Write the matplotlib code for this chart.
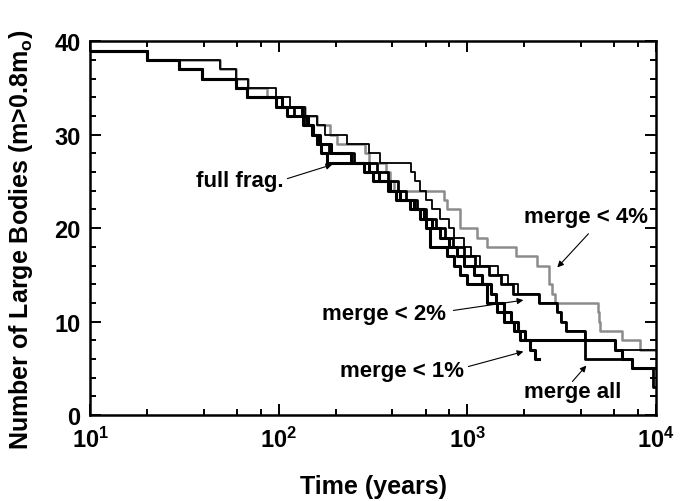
import matplotlib
matplotlib.use("Agg")
import matplotlib.pyplot as plt
from matplotlib.ticker import LogLocator, MultipleLocator, FixedLocator

plt.rcParams["font.family"] = "Liberation Sans"
plt.rcParams["font.weight"] = "bold"
plt.rcParams["mathtext.fontset"] = "custom"
plt.rcParams["mathtext.rm"] = "Liberation Sans:bold"
plt.rcParams["mathtext.bf"] = "Liberation Sans:bold"
plt.rcParams["mathtext.default"] = "bf"

# number of bodies above 0.8 m_o vs time (step changes, value held until next time)
full_frag_t = [10, 20, 29.5, 39, 59, 68, 104, 133, 143, 151, 160, 167, 180, 282, 314, 390, 441, 520,
               590, 650, 719, 800, 880, 960, 1080, 1200, 1330, 1420, 1560, 1700, 1850, 2033, 6090, 6610, 7470, 10000]
full_frag_n = [39, 38, 37, 36, 35, 34, 33, 32, 31, 30, 29, 28, 27, 26, 25, 24, 23, 22,
               21, 20, 19, 18, 17, 16, 15, 14, 13, 12, 11, 10, 9, 8, 7, 6, 5, 5]

merge1_t = [10, 20, 29.5, 39, 59, 68, 97, 110, 135, 150, 165, 190, 240, 300, 340, 380, 420, 498,
            563, 600, 637, 780, 846, 916, 996, 1271, 1438, 1560, 1763, 1911, 2160, 2295, 2386]
merge1_n = [39, 38, 37, 36, 35, 34, 33, 32, 31, 30, 29, 28, 27, 26, 25, 24, 23, 22,
            21, 20, 18, 17, 16, 15, 14, 12, 11, 10, 9, 8, 7, 6, 6]

merge2_t = [10, 20, 49, 59, 69, 97, 115, 137, 160, 175, 230, 300, 345, 505, 530, 563, 600, 650,
            719, 800, 850, 960, 1050, 1167, 1450, 1650, 1850, 2389, 3000, 3150, 3350, 4219, 6090, 10000]
merge2_n = [39, 38, 37, 36, 35, 34, 33, 32, 31, 30, 29, 28, 27, 26, 25, 24, 23, 22,
            21, 20, 19, 18, 17, 16, 15, 14, 13, 12, 11, 10, 9, 8, 7, 7]

merge4_t = [10, 20, 49, 59, 69, 87, 97, 137, 160, 186, 203, 287, 302, 370, 390, 406, 748, 778,
            918, 1125, 1266, 1800, 2330, 2700, 2800, 2930, 4900, 5000, 5080, 6610, 8280, 10000]
merge4_n = [39, 38, 37, 36, 35, 34, 33, 32, 31, 30, 29, 28, 27, 26, 25, 24, 23, 22,
            20, 19, 18, 17, 16, 14, 13, 12, 11, 10, 9, 8, 7, 7]

merge_all_t = [10, 20, 29.5, 39, 59, 68, 97, 120, 140, 150, 160, 185, 250, 330, 380, 430, 470, 540,
               600, 680, 760, 840, 960, 1100, 1300, 1500, 1750, 2389, 3000, 3150, 3350, 4219, 7470, 9700, 10000]
merge_all_n = [39, 38, 37, 36, 35, 34, 33, 32, 31, 30, 29, 28, 27, 26, 25, 24, 23, 22,
               21, 20, 19, 18, 17, 16, 15, 14, 13, 12, 11, 10, 9, 6, 5, 3, 3]

fig = plt.figure(figsize=(6.89, 5.02), dpi=100)
ax = fig.add_axes([0.131, 0.171, 0.821, 0.745])

ax.step(merge4_t, merge4_n, where="post", color="#8c8c8c", lw=1.8, zorder=2)
ax.step(merge2_t, merge2_n, where="post", color="black", lw=1.3, zorder=3)
ax.step(merge_all_t, merge_all_n, where="post", color="black", lw=2.0, zorder=3)
ax.step(full_frag_t, full_frag_n, where="post", color="black", lw=2.2, zorder=4)
ax.step(merge1_t, merge1_n, where="post", color="black", lw=2.2, zorder=4)

ax.set_xscale("log")
ax.set_xlim(10, 1e4)
ax.set_ylim(0, 40)

ax.xaxis.set_major_locator(FixedLocator([10, 100, 1000, 10000]))
ax.xaxis.set_minor_locator(LogLocator(base=10, subs=(2, 4, 6, 8)))
ax.set_xticklabels([r"$10^{1}$", r"$10^{2}$", r"$10^{3}$", r"$10^{4}$"])
ax.yaxis.set_major_locator(MultipleLocator(10))
ax.yaxis.set_minor_locator(MultipleLocator(2))

ax.tick_params(which="both", direction="in", top=True, right=True, width=1.4)
ax.tick_params(which="major", length=8, labelsize=17)
ax.tick_params(which="minor", length=4.5)
ax.tick_params(axis="y", pad=7)
ax.tick_params(axis="x", pad=8)
for s in ax.spines.values():
    s.set_linewidth(1.8)

ax.set_xlabel("Time (years)", fontsize=18, fontweight="bold", labelpad=16)
ax.set_ylabel(r"Number of Large Bodies (m>0.8m$_{o}$)", fontsize=18, fontweight="bold")
ax.yaxis.set_label_coords(-0.098, 0.47)

# labels and pointer arrows
arrow = dict(arrowstyle="-|>", lw=0.8, color="black", mutation_scale=9, shrinkA=0, shrinkB=0)
labels = ["full frag.", "merge < 4%", "merge < 2%", "merge < 1%", "merge all"]
label_xy = [(62, 25.1), (4275, 21.3), (363, 10.9), (452, 4.8), (3606, 2.5)]
arrow_tail = [(111, 25.3), (4385, 19.4), (843, 11.2), (1012, 5.2), (3606, 3.6)]
arrow_tip = [(192, 26.8), (3000, 15.8), (1982, 12.3), (1982, 6.8), (4275, 5.3)]
for txt, pos, tail, tip in zip(labels, label_xy, arrow_tail, arrow_tip):
    ax.text(pos[0], pos[1], txt, fontsize=16, ha="center", va="center")
    ax.annotate("", xy=tip, xytext=tail, arrowprops=arrow)

fig.savefig("out.png", dpi=100)
